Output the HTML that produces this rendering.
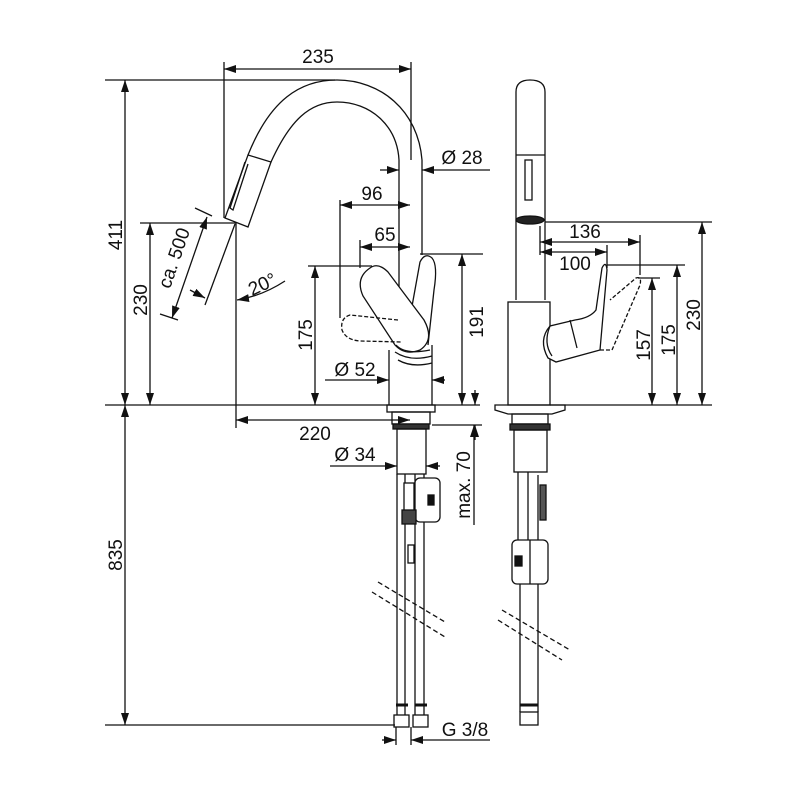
<!DOCTYPE html>
<html><head><meta charset="utf-8"><style>
html,body{margin:0;padding:0;background:#fff}
svg{display:block}
text{font-family:"Liberation Sans",sans-serif;font-size:19px;fill:#111}
</style></head><body>
<svg width="800" height="800" viewBox="0 0 800 800" xmlns="http://www.w3.org/2000/svg">
<defs>
<marker id="a" markerWidth="12" markerHeight="8" refX="12" refY="4" orient="auto-start-reverse" markerUnits="userSpaceOnUse"><path d="M0,0 L12,4 L0,8 Z" fill="#111"/></marker>
</defs>
<g stroke="#111" stroke-width="1.3" fill="none">
<line x1="105" y1="80" x2="335" y2="80"/>
<line x1="105" y1="405" x2="480" y2="405"/>
<line x1="105" y1="725" x2="395" y2="725"/>
<line x1="140" y1="223" x2="236" y2="223"/>
<line x1="224" y1="62" x2="224" y2="218"/>
<line x1="411" y1="62" x2="411" y2="160"/>
<line x1="236" y1="223" x2="236" y2="428"/>
<line x1="224" y1="69" x2="411" y2="69" marker-start="url(#a)" marker-end="url(#a)"/>
<line x1="125" y1="80" x2="125" y2="405" marker-start="url(#a)" marker-end="url(#a)"/>
<line x1="150" y1="223" x2="150" y2="405" marker-start="url(#a)" marker-end="url(#a)"/>
<line x1="125" y1="405" x2="125" y2="725" marker-start="url(#a)" marker-end="url(#a)"/>
<line x1="236" y1="420" x2="410" y2="420" marker-start="url(#a)" marker-end="url(#a)"/>
<line x1="195" y1="208" x2="212" y2="216"/>
<line x1="160" y1="314" x2="178" y2="320"/>
<line x1="207" y1="217" x2="172" y2="318" marker-start="url(#a)" marker-end="url(#a)"/>
<line x1="235" y1="224" x2="205" y2="305"/>
<line x1="190" y1="290" x2="205" y2="298" marker-end="url(#a)"/>
<path d="M285,281 Q262,296 237,300" marker-end="url(#a)"/>
<path d="M248,155 C270,100 300,80 337,80 C380,80 418,110 422,160 L422,255"/>
<path d="M271,162 C290,120 310,102 337,102 C370,102 397,125 399,160 L399,290"/>
<path d="M248,155 L271,162 L248,227 L225,218 Z"/>
<path d="M245,162 L230,208 L233,210 L248,164"/>
<line x1="380" y1="170" x2="399" y2="170" marker-end="url(#a)"/>
<line x1="490" y1="170" x2="422" y2="170" marker-end="url(#a)"/>
<line x1="340" y1="205" x2="410" y2="205" marker-start="url(#a)" marker-end="url(#a)"/>
<line x1="340" y1="200" x2="340" y2="318"/>
<line x1="360" y1="247" x2="410" y2="247" marker-start="url(#a)" marker-end="url(#a)"/>
<line x1="360" y1="240" x2="360" y2="268"/>
<line x1="308" y1="266" x2="372" y2="266"/>
<line x1="315" y1="266" x2="315" y2="405" marker-start="url(#a)" marker-end="url(#a)"/>
<line x1="420" y1="254" x2="483" y2="254"/>
<line x1="462" y1="254" x2="462" y2="405" marker-start="url(#a)" marker-end="url(#a)"/>
<line x1="475" y1="390" x2="475" y2="405" marker-end="url(#a)"/>
<line x1="475" y1="440" x2="475" y2="425" marker-end="url(#a)"/>
<path d="M405,345 L420,262 Q425,252 432,258 Q438,265 434,290 L428,345"/>
<path d="M370,268 Q378,262 388,272 L424,320 Q435,340 420,350 Q405,356 395,345 L363,296 Q355,278 370,268 Z" fill="#fff"/>
<path d="M398,320 L350,315 Q340,318 342,330 Q346,340 360,341 L402,342" stroke-dasharray="4,2"/>
<path d="M396,345 Q405,355 430,350 M395,352 Q410,362 432,356 M398,360 Q412,368 432,363"/>
<path d="M389,350 L389,405 M432,345 L432,405"/>
<line x1="325" y1="380" x2="389" y2="380" marker-end="url(#a)"/>
<line x1="445" y1="380" x2="432" y2="380" marker-end="url(#a)"/>
<rect x="387" y="405" width="48" height="7"/>
<rect x="392" y="412" width="38" height="12"/>
<rect x="393" y="424" width="36" height="5" fill="#333"/>
<rect x="397" y="429" width="29" height="45"/>
<line x1="330" y1="466" x2="397" y2="466" marker-end="url(#a)"/>
<line x1="440" y1="466" x2="426" y2="466" marker-end="url(#a)"/>
<line x1="432" y1="425" x2="482" y2="425"/>
<line x1="474" y1="525" x2="474" y2="425" marker-end="url(#a)"/>
<path d="M397,474 L397,715 M405,474 L405,715 M415,474 L415,715 M424,474 L424,715"/>
<rect x="415" y="478" width="25" height="44" rx="5" fill="#fff"/>
<rect x="428" y="495" width="6" height="10" fill="#111"/>
<rect x="404" y="483" width="10" height="30" fill="#fff"/>
<rect x="402" y="510" width="14" height="14" fill="#444"/>
<rect x="408" y="545" width="6" height="18"/>
<rect x="394" y="715" width="15" height="12"/>
<rect x="413" y="715" width="15" height="12"/>
<path d="M396,705 L408,705 M415,705 L427,705" stroke-width="3"/>
<path d="M378,582 L445,622 M372,592 L445,637" stroke-dasharray="5,3"/>
<line x1="396" y1="727" x2="396" y2="745"/>
<line x1="411" y1="727" x2="411" y2="745"/>
<line x1="382" y1="740" x2="396" y2="740" marker-end="url(#a)"/>
<line x1="490" y1="740" x2="411" y2="740" marker-end="url(#a)"/>
<path d="M516,300 L516,92 Q516,80 530,80 Q545,80 545,92 L545,300"/>
<line x1="516" y1="155" x2="545" y2="155"/>
<rect x="525" y="160" width="7" height="40"/>
<ellipse cx="530" cy="220" rx="14" ry="4" fill="#222"/>
<line x1="540" y1="226" x2="540" y2="255"/>
<line x1="540" y1="242" x2="640" y2="242" marker-start="url(#a)" marker-end="url(#a)"/>
<line x1="540" y1="252" x2="607" y2="252" marker-start="url(#a)" marker-end="url(#a)"/>
<line x1="640" y1="235" x2="640" y2="275"/>
<line x1="607" y1="245" x2="607" y2="268"/>
<line x1="545" y1="222" x2="712" y2="222"/>
<line x1="607" y1="265" x2="685" y2="265"/>
<line x1="638" y1="278" x2="660" y2="278"/>
<line x1="652" y1="278" x2="652" y2="405" marker-start="url(#a)" marker-end="url(#a)"/>
<line x1="677" y1="265" x2="677" y2="405" marker-start="url(#a)" marker-end="url(#a)"/>
<line x1="702" y1="222" x2="702" y2="405" marker-start="url(#a)" marker-end="url(#a)"/>
<line x1="550" y1="405" x2="712" y2="405"/>
<rect x="508" y="302" width="42" height="103"/>
<path d="M550,326 Q538,340 548,358 L556,362 L600,350 L607,270 Q606,260 602,268 L596,310 Q590,318 575,320 Z" fill="#fff"/>
<path d="M550,326 Q543,343 552,356"/>
<path d="M570,320 L577,348"/>
<path d="M600,350 L612,350 L640,285 Q642,276 636,278 L610,300" stroke-dasharray="4,2"/>
<path d="M495,405 L565,405 L565,410 L552,414 L508,414 L495,410 Z"/>
<rect x="512" y="414" width="36" height="10"/>
<rect x="510" y="424" width="40" height="6" fill="#333"/>
<rect x="514" y="430" width="33" height="42"/>
<path d="M518,472 L518,540 M528,472 L528,540 M538,475 L538,540"/>
<rect x="540" y="485" width="6" height="35" fill="#555"/>
<rect x="512" y="540" width="36" height="44" rx="5" fill="#fff"/>
<line x1="530" y1="540" x2="530" y2="584"/>
<rect x="515" y="556" width="7" height="10" fill="#111"/>
<path d="M520,584 L520,712 M538,584 L538,712"/>
<path d="M502,610 L570,650 M498,620 L562,660" stroke-dasharray="5,3"/>
<rect x="520" y="712" width="18" height="13"/>
<path d="M520,705 L538,705" stroke-width="3"/>
</g>
<text x="318" y="63" text-anchor="middle">235</text>
<text x="462" y="164" text-anchor="middle">Ø 28</text>
<text x="372" y="200" text-anchor="middle">96</text>
<text x="385" y="241" text-anchor="middle">65</text>
<text x="355" y="376" text-anchor="middle">Ø 52</text>
<text x="315" y="440" text-anchor="middle">220</text>
<text x="355" y="461" text-anchor="middle">Ø 34</text>
<text x="465" y="736" text-anchor="middle">G 3/8</text>
<text x="585" y="238" text-anchor="middle">136</text>
<text x="575" y="270" text-anchor="middle">100</text>
<text transform="translate(122,235) rotate(-90)" text-anchor="middle">411</text>
<text transform="translate(147,300) rotate(-90)" text-anchor="middle">230</text>
<text transform="translate(122,555) rotate(-90)" text-anchor="middle">835</text>
<text transform="translate(312,335) rotate(-90)" text-anchor="middle">175</text>
<text transform="translate(483,322) rotate(-90)" text-anchor="middle">191</text>
<text transform="translate(470,485) rotate(-90)" text-anchor="middle">max. 70</text>
<text transform="translate(650,345) rotate(-90)" text-anchor="middle">157</text>
<text transform="translate(675,340) rotate(-90)" text-anchor="middle">175</text>
<text transform="translate(700,315) rotate(-90)" text-anchor="middle">230</text>
<text transform="translate(180,260) rotate(-71)" text-anchor="middle">ca. 500</text>
<text transform="translate(265,290) rotate(-25)" text-anchor="middle">20°</text>
</svg>
</body></html>
